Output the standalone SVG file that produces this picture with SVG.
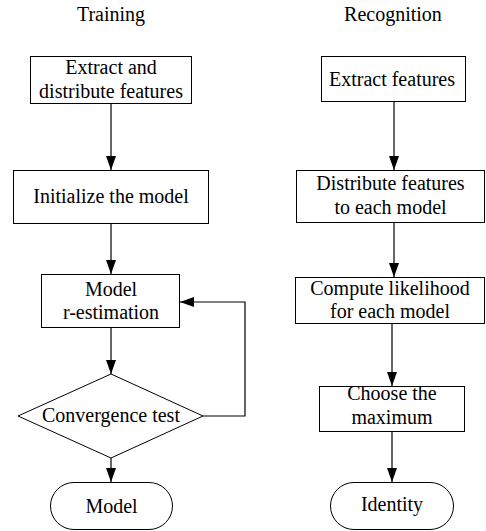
<svg xmlns="http://www.w3.org/2000/svg" width="486" height="531" viewBox="0 0 486 531" font-family="'Liberation Serif', serif">
<style>
.n{fill:#fff;stroke:#000;stroke-width:1}
text{font-family:"Liberation Serif",serif;font-size:20px;fill:#000;text-anchor:middle}
.c{fill:none;stroke:#000;stroke-width:1.2}
</style>
<defs>
<marker id="ah" markerUnits="userSpaceOnUse" markerWidth="14" markerHeight="10" viewBox="0 0 14 10" refX="14" refY="5" orient="auto">
<path d="M0,0 L14,5 L0,10 z" fill="#000"/>
</marker>
</defs>
<rect width="486" height="531" fill="#fff"/>
<g id="titles">
<text x="111" y="21">Training</text>
<text x="393" y="21">Recognition</text>
</g>
<g id="connectors">
<line class="c" x1="111" y1="104" x2="111" y2="170" marker-end="url(#ah)"/>
<line class="c" x1="111" y1="224" x2="111" y2="274" marker-end="url(#ah)"/>
<line class="c" x1="111" y1="328" x2="111" y2="374" marker-end="url(#ah)"/>
<line class="c" x1="111" y1="458" x2="111" y2="482" marker-end="url(#ah)"/>
<polyline class="c" points="203,416 245,416 245,302 180,302" marker-end="url(#ah)"/>
<line class="c" x1="394" y1="102" x2="394" y2="170" marker-end="url(#ah)"/>
<line class="c" x1="394" y1="223" x2="394" y2="277" marker-end="url(#ah)"/>
<line class="c" x1="392" y1="324" x2="392" y2="386" marker-end="url(#ah)"/>
<line class="c" x1="392" y1="432" x2="392" y2="482" marker-end="url(#ah)"/>
</g>
<g id="extract-distribute">
<rect class="n" x="30.5" y="56.5" width="161" height="47"/>
<text x="111" y="74">Extract and</text>
<text x="111" y="98">distribute features</text>
</g>
<g id="initialize">
<rect class="n" x="13.5" y="170.5" width="195" height="53"/>
<text x="111" y="203">Initialize the model</text>
</g>
<g id="reestimation">
<rect class="n" x="41.5" y="274.5" width="138" height="53"/>
<text x="111" y="296">Model</text>
<text x="111" y="319">r-estimation</text>
</g>
<g id="convergence">
<polygon class="n" points="111,374 203,416 111,458 18,416"/>
<text x="111" y="422">Convergence test</text>
</g>
<g id="model-out">
<rect class="n" x="50.5" y="482.5" width="122" height="47" rx="23.5"/>
<text x="111.5" y="513">Model</text>
</g>
<g id="extract-features">
<rect class="n" x="321.5" y="56.5" width="144" height="45"/>
<text x="392" y="86">Extract features</text>
</g>
<g id="distribute">
<rect class="n" x="296.5" y="170.5" width="188" height="52"/>
<text x="390.5" y="190">Distribute features</text>
<text x="390.5" y="214">to each model</text>
</g>
<g id="likelihood">
<rect class="n" x="295.5" y="277.5" width="189" height="46"/>
<text x="390" y="295">Compute likelihood</text>
<text x="390" y="318">for each model</text>
</g>
<g id="maximum">
<rect class="n" x="319.5" y="386.5" width="145" height="45"/>
<text x="392" y="400">Choose the</text>
<text x="392" y="424">maximum</text>
</g>
<g id="identity">
<rect class="n" x="330.5" y="482.5" width="123" height="47" rx="23.5"/>
<text x="392" y="511">Identity</text>
</g>
</svg>
